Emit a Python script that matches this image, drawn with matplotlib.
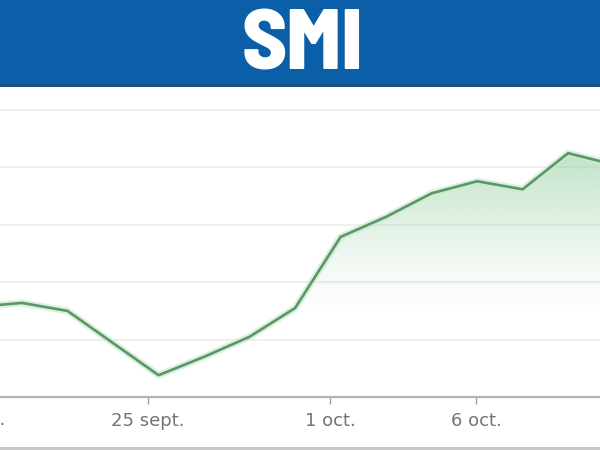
import numpy as np
import matplotlib.pyplot as plt
from matplotlib.patches import Rectangle

# SMI daily closes (trading day index)
days = [-1, 0, 1, 2, 3, 4, 5, 6, 7, 8, 9, 10, 11, 12, 13]
close = [12057, 12064, 12050, 11994, 11938, 11970, 12005, 12055,
         12179, 12214, 12255, 12276, 12262, 12325, 12305]

tick_pos = [-1.23, 2.77, 6.77, 9.98]
tick_labels = ['19 sept.', '25 sept.', '1 oct.', '6 oct.']
grid_levels = [12000, 12100, 12200, 12300, 12400]

line_col = '#5a966a'
fill_col = np.array([0.55, 0.80, 0.60])

fig = plt.figure(figsize=(6, 4.5), dpi=100)
fig.patch.set_facecolor('white')

# blue header band
fig.patches.append(Rectangle((0, 1 - 85 / 450), 1, 85 / 450, transform=fig.transFigure,
                             facecolor='#0b5ea8', edgecolor='none', zorder=0))
fig.patches.append(Rectangle((0, 1 - 87 / 450), 1, 3 / 450, transform=fig.transFigure,
                             facecolor='#1d4f7c', edgecolor='none', zorder=1))
fig.text(0.504, 1 - 70 / 450, 'SMI', color='white', fontsize=62, fontweight=800,
         fontfamily=['Barlow Semi Condensed', 'DejaVu Sans'], ha='center', va='baseline')

# thin grey rule at the very bottom
fig.patches.append(Rectangle((0, 0), 1, 3 / 450, transform=fig.transFigure,
                             facecolor='#c8c8c8', edgecolor='none'))

ax = fig.add_axes([0, 53 / 450, 1, 311 / 450])
xmin, xmax = -0.484, 12.70
ymin, ymax = 11900, 12442

for g in grid_levels:
    ax.axhline(g, color='#ececec', lw=1.2, zorder=1)

# gradient under the line
ny = 200
vals = np.linspace(ymin, ymax, ny)
a = np.clip((vals - 12040) / (12330 - 12040), 0, 1) ** 1.3 * 0.55
img = np.zeros((ny, 2, 4))
img[:, :, :3] = fill_col
img[:, :, 3] = a[:, None]
poly = ax.fill_between(days, close, ymin, facecolor='none', edgecolor='none')
im = ax.imshow(img, extent=[xmin, xmax, ymin, ymax], origin='lower', aspect='auto', zorder=2)
im.set_clip_path(poly.get_paths()[0], transform=ax.transData)

ax.plot(days, close, color='#cdeccf', lw=5, alpha=0.7, zorder=3, solid_joinstyle='round')
ax.plot(days, close, color=line_col, lw=1.9, zorder=4, solid_joinstyle='round')

for s in ['top', 'left', 'right']:
    ax.spines[s].set_visible(False)
ax.spines['bottom'].set_color('#b4b4b4')
ax.spines['bottom'].set_linewidth(1.6)
ax.set_yticks([])
ax.set_xticks(tick_pos)
ax.set_xticklabels(tick_labels)
ax.tick_params(axis='x', length=5, width=1, color='#a0a0a0', pad=6,
               labelsize=13, labelcolor='#747474')

# limits last, set_xticks would widen them otherwise
ax.set_xlim(xmin, xmax)
ax.set_ylim(ymin, ymax)

# first tick sits left of the view, only the tail of its label shows
ax.text(tick_pos[0] + 0.05, -0.074, tick_labels[0], transform=ax.get_xaxis_transform(),
        ha='center', va='center', fontsize=13, color='#747474', clip_on=False)

fig.savefig('out.png', dpi=100)
